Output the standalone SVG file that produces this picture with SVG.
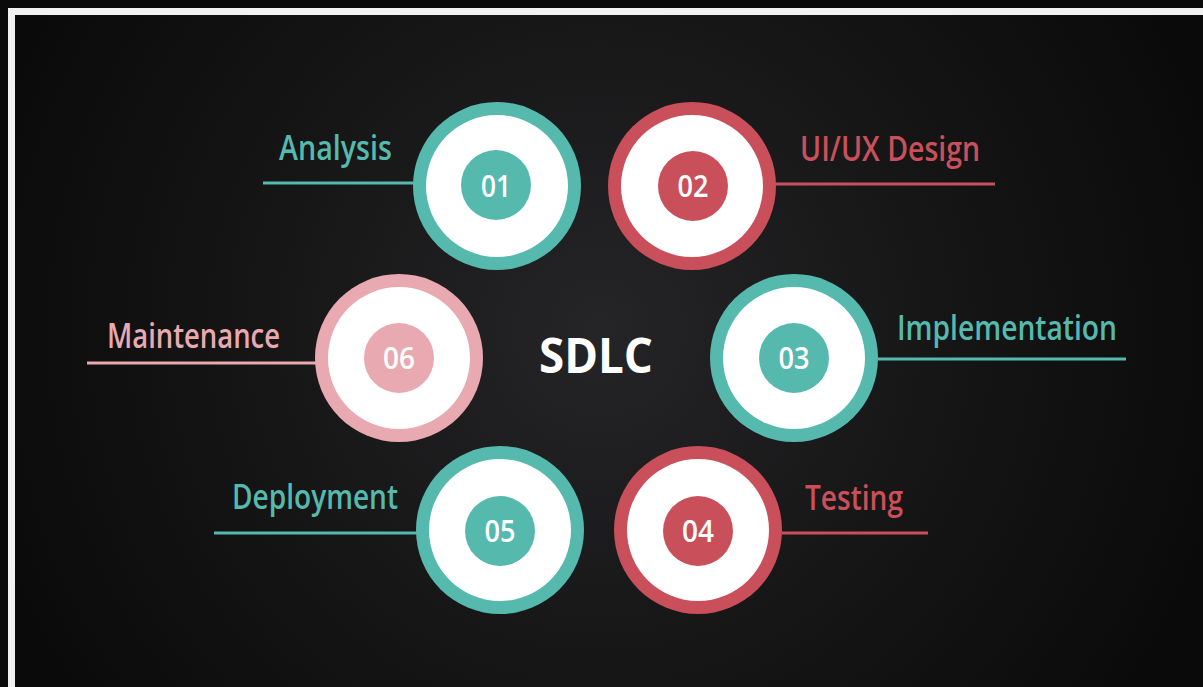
<svg xmlns="http://www.w3.org/2000/svg" width="1203" height="687" viewBox="0 0 1203 687">
<defs>
<radialGradient id="bg" cx="600" cy="330" r="650" gradientUnits="userSpaceOnUse">
<stop offset="0" stop-color="#252527"/>
<stop offset="0.55" stop-color="#151516"/>
<stop offset="1" stop-color="#0a0a0b"/>
</radialGradient>
<style>
.lbl{font-family:"Open Sans","Noto Sans","DejaVu Sans",sans-serif;font-size:34px;font-weight:600}
.num{font-family:"Open Sans","Noto Sans","DejaVu Sans",sans-serif;font-size:31px;font-weight:600;fill:#ffffff}
.teal{fill:#55b9ae}
.red{fill:#c9505a}
.pink{fill:#e8a9b0}
.white{fill:#ffffff}
.ln{stroke-width:3;fill:none}
</style>
</defs>
<rect x="0" y="0" width="1203" height="687" fill="#0a0a0b"/>
<rect x="15" y="15" width="1188" height="672" fill="url(#bg)"/>
<path d="M11.5 687 V11.5 H1203" fill="none" stroke="#f2f2f2" stroke-width="7"/>

<g id="connectors">
<line class="ln" x1="263" y1="183" x2="416" y2="183" stroke="#55b9ae"/>
<line class="ln" x1="775" y1="184" x2="995" y2="184" stroke="#c9505a"/>
<line class="ln" x1="878" y1="359" x2="1126" y2="359" stroke="#55b9ae"/>
<line class="ln" x1="782" y1="533" x2="928" y2="533" stroke="#c9505a"/>
<line class="ln" x1="214" y1="533" x2="417" y2="533" stroke="#55b9ae"/>
<line class="ln" x1="87" y1="363" x2="316" y2="363" stroke="#e8a9b0"/>
</g>

<g id="center">
<text x="596" y="373" text-anchor="middle" font-family="'Open Sans','DejaVu Sans',sans-serif" font-size="48" font-weight="700" fill="#ffffff" textLength="114" lengthAdjust="spacingAndGlyphs">SDLC</text>
</g>

<g id="node01">
<circle class="teal" cx="497" cy="186" r="84"/>
<circle class="white" cx="497" cy="186" r="71"/>
<circle class="teal" cx="496" cy="185" r="35"/>
<text class="num" x="496" y="197" text-anchor="middle" textLength="30" lengthAdjust="spacingAndGlyphs">01</text>
<text class="lbl teal" x="279" y="160" textLength="113" lengthAdjust="spacingAndGlyphs">Analysis</text>
</g>

<g id="node02">
<circle class="red" cx="692" cy="186" r="84"/>
<circle class="white" cx="692" cy="186" r="71"/>
<circle class="red" cx="693" cy="186" r="35"/>
<text class="num" x="693" y="197" text-anchor="middle" textLength="31" lengthAdjust="spacingAndGlyphs">02</text>
<text class="lbl red" x="800" y="161" textLength="180" lengthAdjust="spacingAndGlyphs">UI/UX Design</text>
</g>

<g id="node03">
<circle class="teal" cx="794" cy="358" r="84"/>
<circle class="white" cx="794" cy="358" r="71"/>
<circle class="teal" cx="794" cy="358" r="35"/>
<text class="num" x="794" y="369" text-anchor="middle" textLength="31" lengthAdjust="spacingAndGlyphs">03</text>
<text class="lbl teal" x="897" y="340" textLength="220" lengthAdjust="spacingAndGlyphs">Implementation</text>
</g>

<g id="node04">
<circle class="red" cx="698" cy="530" r="84"/>
<circle class="white" cx="698" cy="530" r="71"/>
<circle class="red" cx="698" cy="531" r="35"/>
<text class="num" x="698" y="542" text-anchor="middle" textLength="32" lengthAdjust="spacingAndGlyphs">04</text>
<text class="lbl red" x="805" y="510" textLength="98" lengthAdjust="spacingAndGlyphs">Testing</text>
</g>

<g id="node05">
<circle class="teal" cx="500" cy="530" r="84"/>
<circle class="white" cx="500" cy="530" r="71"/>
<circle class="teal" cx="500" cy="531" r="35"/>
<text class="num" x="500" y="542" text-anchor="middle" textLength="31" lengthAdjust="spacingAndGlyphs">05</text>
<text class="lbl teal" x="232" y="509" textLength="166" lengthAdjust="spacingAndGlyphs">Deployment</text>
</g>

<g id="node06">
<circle class="pink" cx="399" cy="358" r="84"/>
<circle class="white" cx="399" cy="358" r="71"/>
<circle class="pink" cx="399" cy="358" r="35"/>
<text class="num" x="399" y="369" text-anchor="middle" textLength="32" lengthAdjust="spacingAndGlyphs">06</text>
<text class="lbl pink" x="107" y="348" textLength="173" lengthAdjust="spacingAndGlyphs">Maintenance</text>
</g>
</svg>
